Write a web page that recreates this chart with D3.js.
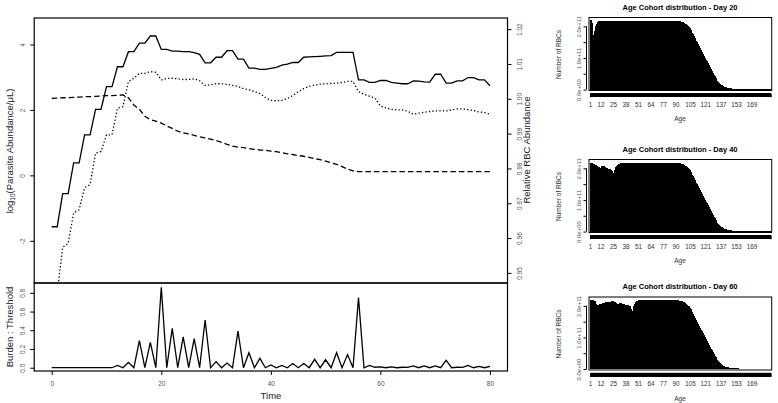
<!DOCTYPE html>
<html>
<head>
<meta charset="utf-8">
<script src="https://cdn.jsdelivr.net/npm/d3@7"></script>
<style>
  body { margin: 0; background: #fff; }
  svg { display: block; }
  text { font-family: "Liberation Sans", Arial, sans-serif; }
</style>
</head>
<body>
<script>
// time axis (days)
const days = d3.range(0, 81);

// log10 parasite abundance, total (solid)
const parasiteTotal = [-1.57,-1.57,-0.56,-0.56,0.38,0.38,1.24,1.24,2.02,2.02,
  2.71,2.71,3.32,3.32,3.78,3.78,4.04,4.04,4.26,4.26,
  3.85,3.85,3.80,3.80,3.78,3.78,3.75,3.70,3.44,3.44,
  3.61,3.61,3.81,3.81,3.55,3.55,3.28,3.28,3.24,3.24,
  3.27,3.30,3.37,3.40,3.45,3.45,3.61,3.62,3.63,3.64,
  3.65,3.66,3.76,3.76,3.76,3.76,2.92,2.92,2.84,2.84,
  2.90,2.90,2.84,2.82,2.80,2.80,2.89,2.88,2.86,2.85,
  3.09,3.09,2.82,2.82,2.89,2.89,2.99,2.99,2.92,2.92,2.74];

// log10 parasite abundance, second series (dotted)
const parasiteSub = [-3.6,-3.6,-2.2,-2.08,-1.15,-1.05,-0.38,-0.28,0.68,0.73,
  1.24,1.24,2.05,2.1,2.87,2.97,3.12,3.12,3.17,3.15,
  2.92,2.96,2.97,2.95,2.93,2.93,2.95,2.89,2.75,2.77,
  2.8,2.8,2.78,2.75,2.72,2.65,2.62,2.56,2.5,2.38,
  2.29,2.28,2.29,2.35,2.44,2.55,2.65,2.72,2.76,2.79,
  2.8,2.81,2.82,2.84,2.87,2.87,2.56,2.48,2.42,2.36,
  2.12,2.06,2.02,2.0,2.0,1.96,1.87,1.9,1.93,1.95,
  1.97,1.97,1.97,2.0,2.03,2.03,2.01,1.98,1.94,1.92,1.87];

// relative RBC abundance (dashed, right axis)
const rbcRelative = [1.0001,1.0002,1.0003,1.0003,1.0004,1.0005,1.0006,1.0006,1.0007,1.0008,
  1.0009,1.0009,1.0010,1.0011,1.0003,0.9982,0.9970,0.9950,0.9940,0.9936,
  0.9930,0.9922,0.9915,0.9907,0.9902,0.9899,0.9895,0.9891,0.9888,0.9884,
  0.9880,0.9875,0.9869,0.9864,0.9861,0.9860,0.9857,0.9855,0.9853,0.9852,
  0.9850,0.9848,0.9845,0.9842,0.9840,0.9837,0.9835,0.9832,0.9828,0.9825,
  0.9821,0.9816,0.9812,0.9805,0.9798,0.9793,0.9791,0.9791,0.9791,0.9791,
  0.9791,0.9791,0.9791,0.9791,0.9791,0.9791,0.9791,0.9791,0.9791,0.9791,
  0.9791,0.9791,0.9791,0.9791,0.9791,0.9791,0.9791,0.9791,0.9791,0.9791,0.9791];

// burden : threshold (lower panel)
const burden = [0,0,0,0,0,0,0,0,0,0,
  0,0,0.025,0,0.056,0,0.29,0,0.27,0,
  0.86,0,0.42,0,0.33,0,0.31,0,0.51,0,
  0.065,0,0.05,0,0.39,0,0.16,0,0.1,0,
  0.03,0,0.025,0,0.045,0,0.045,0,0.09,0,
  0.085,0,0.16,0,0.14,0,0.75,0,0.025,0.005,
  0.008,0,0.01,0,0.005,0.003,0.02,0,0.02,0,
  0.02,0,0.08,0,0.005,0.003,0.025,0,0.015,0,0.015];

const leftTicks = [-2, 0, 2, 4];
const rightTicks = [0.95, 0.96, 0.97, 0.98, 0.99, 1.00, 1.01, 1.02];
const burdenTicks = [0, 0.2, 0.4, 0.6, 0.8];
const timeTicks = [0, 20, 40, 60, 80];

// RBC age cohorts (x 1e11), ages 1..188
const ages = d3.range(1, 189);
const ageLabels = [1, 12, 25, 38, 51, 64, 77, 90, 105, 121, 137, 153, 169];
const countTicks = [0, 0.5, 1, 1.5, 2];
const countLabels = {0: "0.0e+00", 1: "1.0e+11", 2: "2.0e+11"};

// ages 1..89
const young20 = [2.21,2.12,1.85,1.74,1.86,2.0,2.08,2.13,2.16,
  2.17,2.17,2.17,2.17,2.17,2.17,2.17,2.17,2.17,2.17,
  2.17,2.17,2.17,2.17,2.17,2.17,2.17,2.17,2.17,2.17,
  2.17,2.17,2.17,2.17,2.17,2.17,2.17,2.17,2.17,2.17,
  2.17,2.17,2.17,2.17,2.17,2.17,2.17,2.17,2.17,2.17,
  2.17,2.17,2.17,2.17,2.17,2.17,2.17,2.17,2.17,2.17,
  2.17,2.17,2.17,2.17,2.17,2.17,2.17,2.17,2.17,2.17,
  2.17,2.17,2.17,2.17,2.17,2.17,2.17,2.17,2.17,2.17,
  2.17,2.17,2.17,2.17,2.17,2.17,2.17,2.17,2.17,2.17];
const young40 = [2.17,2.16,2.15,2.14,2.13,2.12,2.10,2.08,2.05,2.03,
  2.02,2.06,2.09,2.08,2.06,2.04,2.02,2.0,1.99,1.98,
  1.97,1.96,1.93,1.78,1.85,1.95,2.03,2.09,2.12,2.14,
  2.15,2.16,2.17,2.17,2.17,2.17,2.17,2.17,2.17,2.17,
  2.17,2.17,2.17,2.17,2.17,2.17,2.17,2.17,2.17,2.17,
  2.17,2.17,2.17,2.17,2.17,2.17,2.17,2.17,2.17,2.17,
  2.17,2.17,2.17,2.17,2.17,2.17,2.17,2.17,2.17,2.17,
  2.17,2.17,2.17,2.17,2.17,2.17,2.17,2.17,2.17,2.17,
  2.17,2.17,2.17,2.17,2.17,2.17,2.17,2.17,2.17];
const young60 = [2.17,2.17,2.17,2.17,2.16,2.16,2.05,2.03,2.04,2.05,
  2.06,2.06,2.07,2.08,2.09,2.1,2.11,2.12,2.12,2.13,
  2.13,2.13,2.14,2.14,2.13,2.12,2.1,2.06,2.03,2.05,
  2.08,2.1,2.09,2.07,2.06,2.05,2.04,2.04,2.03,2.02,
  2.01,1.99,1.9,1.75,1.85,1.98,2.07,2.12,2.15,2.16,
  2.17,2.17,2.17,2.17,2.17,2.17,2.17,2.17,2.17,2.17,
  2.17,2.17,2.17,2.17,2.17,2.17,2.17,2.17,2.17,2.17,
  2.17,2.17,2.17,2.17,2.17,2.17,2.17,2.17,2.17,2.17,
  2.17,2.17,2.17,2.17,2.17,2.17,2.17,2.17,2.17];
// ages 90..188, same senescence curve in all three days
const oldTail = [2.17,2.17,2.17,2.16,2.16,2.15,2.14,2.13,2.11,2.09,
  2.07,2.04,2.01,1.98,1.94,1.90,1.85,1.80,1.75,1.69,
  1.62,1.55,1.49,1.43,1.37,1.31,1.25,1.19,1.13,1.07,
  1.01,0.95,0.89,0.83,0.77,0.71,0.65,0.59,0.53,0.47,
  0.42,0.37,0.32,0.28,0.24,0.21,0.18,0.15,0.13,0.11,
  0.09,0.08,0.07,0.06,0.05,0.045,0.04,0.035,0.03,0.028,
  0.025,0.022,0.02,0.02,0.018,0.017,0.016,0.015,0.015,0.015,
  0.014,0.014,0.014,0.014,0.014,0.014,0.014,0.014,0.014,0.014,
  0.013,0.013,0.013,0.013,0.013,0.013,0.013,0.013,0.013,0.013,
  0.012,0.012,0.012,0.012,0.012,0.012,0.012,0.012,0.012];

const cohortPanels = [
  { title: "Age Cohort distribution - Day 20", values: young20.concat(oldTail), top: 17.5 },
  { title: "Age Cohort distribution - Day 40", values: young40.concat(oldTail), top: 159.5 },
  { title: "Age Cohort distribution - Day 60", values: young60.concat(oldTail), top: 297 }
];

const svg = d3.select("body").append("svg")
    .attr("width", 778)
    .attr("height", 403)
    .style("background", "#fff");

const tickGrey = "#555";

// ---------- main panels ----------
const x = d3.scaleLinear().domain([-3.2, 83.2]).range([34.2, 507.5]);
const yL = d3.scaleLinear().domain([-3.29, 4.81]).range([283, 18]);
const yR = d3.scaleLinear().domain([0.9471, 1.0232]).range([283, 18]);
const yB = d3.scaleLinear().domain([-0.035, 0.905]).range([371, 283]);

svg.append("clipPath").attr("id", "upperClip")
  .append("rect")
    .attr("x", 34.2).attr("y", 18)
    .attr("width", 507.5 - 34.2).attr("height", 283 - 18);

const upper = svg.append("g").attr("clip-path", "url(#upperClip)");

const lineL = d3.line().x((d, i) => x(days[i])).y(d => yL(d));
const lineR = d3.line().x((d, i) => x(days[i])).y(d => yR(d));

upper.append("path").datum(parasiteTotal)
    .attr("d", lineL).attr("fill", "none")
    .attr("stroke", "#000").attr("stroke-width", 1.3);

upper.append("path").datum(parasiteSub)
    .attr("d", lineL).attr("fill", "none")
    .attr("stroke", "#000").attr("stroke-width", 1.3)
    .attr("stroke-dasharray", "1.3,2.2");

upper.append("path").datum(rbcRelative)
    .attr("d", lineR).attr("fill", "none")
    .attr("stroke", "#000").attr("stroke-width", 1.3)
    .attr("stroke-dasharray", "5.5,3");

const lineB = d3.line().x((d, i) => x(days[i])).y(d => yB(d));
svg.append("path").datum(burden)
    .attr("d", lineB).attr("fill", "none")
    .attr("stroke", "#000").attr("stroke-width", 1.3);

// rotated tick labels, like R's default las = 0 on vertical axes
const rotateLabels = (g, offset) => {
  g.selectAll(".tick text")
    .attr("x", null).attr("y", null).attr("dy", "0.35em")
    .attr("text-anchor", "middle")
    .attr("transform", "translate(" + offset + ",0) rotate(-90)");
};

const styleAxis = (g) => {
  g.select(".domain").remove();
  g.selectAll(".tick line").attr("stroke", "#000");
  g.selectAll(".tick text").attr("fill", tickGrey).attr("font-size", 6.5)
    .attr("font-family", "'Liberation Sans', Arial, sans-serif");
};

svg.append("g")
    .attr("transform", "translate(34.2,0)")
    .call(d3.axisLeft(yL).tickValues(leftTicks).tickSize(4).tickFormat(d => String(d)))
    .call(styleAxis)
    .call(g => rotateLabels(g, -11.5));

svg.append("g")
    .attr("transform", "translate(507.5,0)")
    .call(d3.axisRight(yR).tickValues(rightTicks).tickSize(4).tickFormat(d3.format(".2f")))
    .call(styleAxis)
    .call(g => rotateLabels(g, 12));

svg.append("g")
    .attr("transform", "translate(34.2,0)")
    .call(d3.axisLeft(yB).tickValues(burdenTicks).tickSize(4).tickFormat(d3.format(".1f")))
    .call(styleAxis)
    .call(g => rotateLabels(g, -11.5));

svg.append("g")
    .attr("transform", "translate(0,371)")
    .call(d3.axisBottom(x).tickValues(timeTicks).tickSize(4).tickPadding(6).tickFormat(d => String(d)))
    .call(styleAxis);

// frames
svg.append("rect")
    .attr("x", 34.2).attr("y", 18).attr("width", 507.5 - 34.2).attr("height", 283 - 18)
    .attr("fill", "none").attr("stroke", "#000").attr("stroke-width", 1.2);
svg.append("rect")
    .attr("x", 34.2).attr("y", 283).attr("width", 507.5 - 34.2).attr("height", 371 - 283)
    .attr("fill", "none").attr("stroke", "#000").attr("stroke-width", 1.2);

// axis titles
const leftTitle = svg.append("text")
    .attr("transform", "translate(13,151) rotate(-90)")
    .attr("text-anchor", "middle")
    .attr("font-size", 9.5).attr("fill", "#222");
leftTitle.append("tspan").text("log");
leftTitle.append("tspan").attr("font-size", 6.5).attr("dy", 2).text("10");
leftTitle.append("tspan").attr("dy", -2).text("(Parasite Abundance/\u03bcL)");

svg.append("text")
    .attr("transform", "translate(13,327) rotate(-90)")
    .attr("text-anchor", "middle")
    .attr("font-size", 9.5).attr("fill", "#222")
    .text("Burden : Threshold");

svg.append("text")
    .attr("transform", "translate(530,150) rotate(-90)")
    .attr("text-anchor", "middle")
    .attr("font-size", 9.5).attr("fill", "#222")
    .text("Relative RBC Abundance");

svg.append("text")
    .attr("x", 271).attr("y", 399)
    .attr("text-anchor", "middle")
    .attr("font-size", 9.5).attr("fill", "#222")
    .text("Time");

// ---------- age cohort panels ----------
const xA = d3.scaleBand().domain(ages).range([590, 770.7]).paddingInner(0).paddingOuter(0);

cohortPanels.forEach(p => {
  const top = p.top;
  const yA = d3.scaleLinear().domain([-0.03, 2.28]).range([top + 73, top]);
  const g = svg.append("g");

  g.append("g")
      .attr("shape-rendering", "crispEdges")
    .selectAll("rect.bar")
    .data(p.values)
    .enter()
    .append("rect")
      .attr("class", "bar")
      .attr("x", (d, i) => xA(ages[i]))
      .attr("width", xA.bandwidth() + 0.6)
      .attr("y", d => yA(d))
      .attr("height", d => yA(0) - yA(d))
      .attr("fill", "#000");

  g.append("rect")
      .attr("x", 589).attr("y", top).attr("width", 771.7 - 589).attr("height", 73)
      .attr("fill", "none").attr("stroke", "#000").attr("stroke-width", 1);

  // y axis
  g.append("g")
      .attr("transform", "translate(586.5,0)")
      .call(d3.axisLeft(yA).tickValues(countTicks).tickSize(3)
        .tickFormat(d => countLabels[d] || ""))
      .call(styleAxis)
      .call(ax => rotateLabels(ax, -7.5))
      .call(ax => ax.selectAll(".tick text").attr("font-size", 6));
  g.append("line")
      .attr("x1", 586.5).attr("x2", 586.5)
      .attr("y1", yA(0)).attr("y2", yA(2))
      .attr("stroke", "#000");

  // x axis: one tick per age cohort, they merge into a solid band
  g.append("g")
      .attr("transform", "translate(0," + (top + 75.8) + ")")
      .call(d3.axisBottom(xA).tickSize(4).tickPadding(5)
        .tickFormat(a => ageLabels.includes(a) ? String(a) : ""))
      .call(ax => ax.select(".domain").attr("stroke", "#000"))
      .call(ax => ax.selectAll(".tick line").attr("stroke", "#000")
        .attr("stroke-width", 1.4).attr("shape-rendering", "crispEdges"))
      .call(ax => ax.selectAll(".tick text").attr("fill", "#333").attr("font-size", 6.3)
        .attr("font-family", "'Liberation Sans', Arial, sans-serif"));

  g.append("text")
      .attr("x", 680).attr("y", top - 8)
      .attr("text-anchor", "middle")
      .attr("font-size", 7.5).attr("font-weight", "bold")
      .text(p.title);

  g.append("text")
      .attr("transform", "translate(561," + (top + 37) + ") rotate(-90)")
      .attr("text-anchor", "middle")
      .attr("font-size", 6.5).attr("fill", "#333")
      .text("Number of RBCs");

  g.append("text")
      .attr("x", 680).attr("y", top + 103.5)
      .attr("text-anchor", "middle")
      .attr("font-size", 6.5).attr("fill", "#333")
      .text("Age");
});
</script>
</body>
</html>
